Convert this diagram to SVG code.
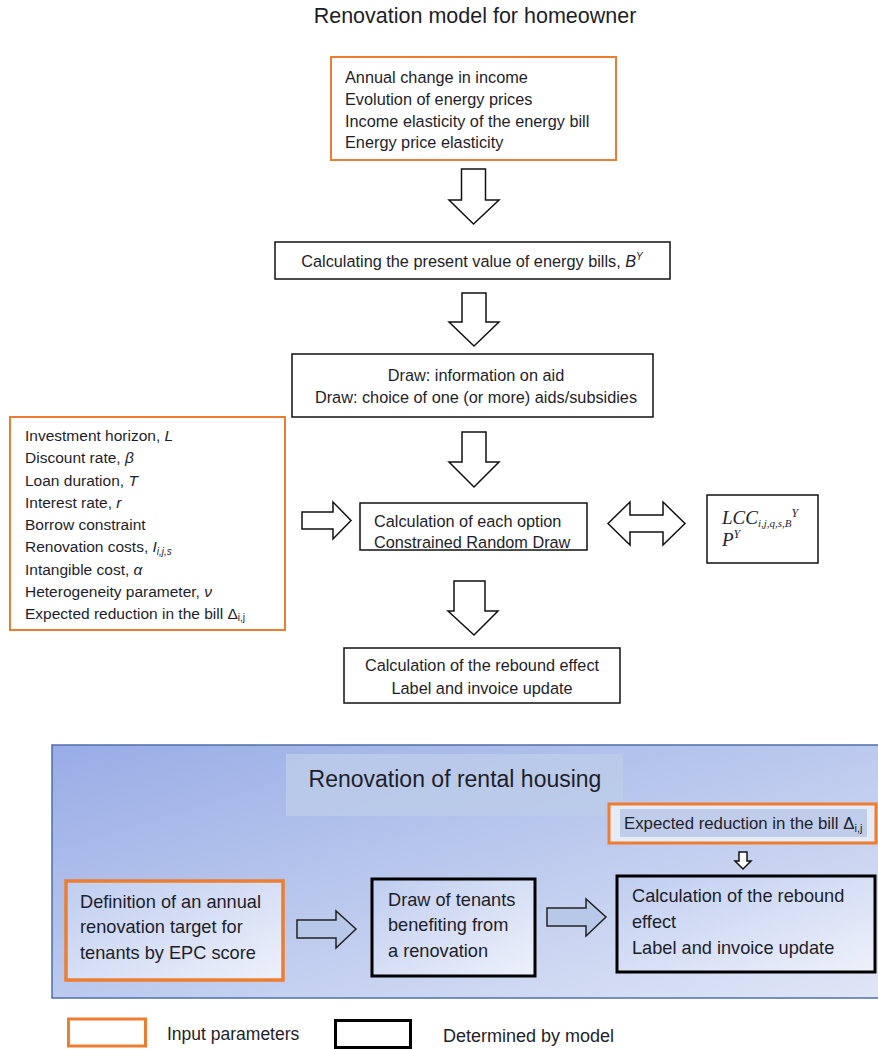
<svg xmlns="http://www.w3.org/2000/svg" width="878" height="1049" viewBox="0 0 878 1049">
<defs>
<linearGradient id="panelGrad" x1="0" y1="0" x2="1" y2="1">
<stop offset="0" stop-color="#98ade6"/>
<stop offset="1" stop-color="#e0e6f6"/>
</linearGradient>
<linearGradient id="boxGrad" x1="0" y1="0" x2="1" y2="1">
<stop offset="0" stop-color="#bfcdf0"/>
<stop offset="1" stop-color="#eef1fa"/>
</linearGradient>
<style>
text{font-family:"Liberation Sans",Arial,sans-serif;fill:#1e1e2a}
.t15{font-size:15.5px}
.t16{font-size:16.3px}
.t18{font-size:18.2px}
.in{fill:#fff;stroke:#ed7d31;stroke-width:2}
.md{fill:#fff;stroke:#111;stroke-width:1.5}
.arw{fill:#fff;stroke:#111;stroke-width:1.5;stroke-linejoin:miter}
.barw{fill:#b8c8e8;stroke:#222;stroke-width:1.5}
.inB{fill:url(#boxGrad);stroke:#ed7d31;stroke-width:3.5}
.mdB{fill:url(#boxGrad);stroke:#000;stroke-width:3}
.it{font-style:italic}
.serif{font-family:"Liberation Serif","Times New Roman",serif;font-style:italic}
</style>
</defs>
<rect width="878" height="1049" fill="#fff"/>
<text x="475" y="23" font-size="21.5" text-anchor="middle">Renovation model for homeowner</text>

<g id="connectors">
<polygon class="arw" points="461.5,169 485.5,169 485.5,200 499,200 473.5,224 449,200 461.5,200"/>
<polygon class="arw" points="462,293 486,293 486,322 499,322 474,346 449,322 462,322"/>
<polygon class="arw" points="462,432 486,432 486,462 499,462 474,487 449,462 462,462"/>
<polygon class="arw" points="454,581 485,581 485,611 498,611 474,635 448,611 454,611"/>
<polygon class="arw" points="302,512 333,512 333,502 351,520.5 333,539 333,529 302,529"/>
<polygon class="arw" points="608,523.5 630,502 630,515 663,515 663,502 685,523.5 663,545 663,532 630,532 630,545"/>
</g>

<g id="inputs-top">
<rect class="in" x="331" y="57" width="285" height="103"/>
<text class="t16" x="345" y="83">Annual change in income</text>
<text class="t16" x="345" y="105">Evolution of energy prices</text>
<text class="t16" x="345" y="127">Income elasticity of the energy bill</text>
<text class="t16" x="345" y="148">Energy price elasticity</text>
</g>

<g id="present-value">
<rect class="md" x="275" y="242" width="395" height="37"/>
<text class="t16" x="472" y="267" text-anchor="middle">Calculating the present value of energy bills, <tspan class="it">B</tspan><tspan class="it" font-size="10" dy="-7">Y</tspan></text>
</g>

<g id="draw-aid">
<rect class="md" x="292" y="354" width="361" height="63"/>
<text class="t16" x="476" y="381" text-anchor="middle">Draw: information on aid</text>
<text class="t16" x="476" y="403" text-anchor="middle">Draw: choice of one (or more) aids/subsidies</text>
</g>

<g id="inputs-left">
<rect class="in" x="10" y="417" width="275" height="213"/>
<text class="t15" x="25" y="441">Investment horizon, <tspan class="it">L</tspan></text>
<text class="t15" x="25" y="463">Discount rate, <tspan class="it">β</tspan></text>
<text class="t15" x="25" y="486">Loan duration, <tspan class="it">T</tspan></text>
<text class="t15" x="25" y="508">Interest rate, <tspan class="it">r</tspan></text>
<text class="t15" x="25" y="530">Borrow constraint</text>
<text class="t15" x="25" y="552">Renovation costs, <tspan class="it">I</tspan><tspan class="it" font-size="10" dy="3">i,j,s</tspan></text>
<text class="t15" x="25" y="575">Intangible cost, <tspan class="it">α</tspan></text>
<text class="t15" x="25" y="597">Heterogeneity parameter, <tspan class="it">ν</tspan></text>
<text class="t15" x="25" y="619">Expected reduction in the bill Δ<tspan font-size="10" dy="2">i,j</tspan></text>
</g>

<g id="calc-option">
<rect class="md" x="360" y="503" width="227" height="47"/>
<text class="t16" x="374" y="527">Calculation of each option</text>
<text class="t16" x="374" y="548">Constrained Random Draw</text>
</g>

<g id="lcc">
<rect class="md" x="707" y="495" width="111" height="68"/>
<text class="serif" x="722" y="524" font-size="19">LCC<tspan font-size="11" dy="3">i,j,q,s,B</tspan><tspan font-size="12" dy="-10">Y</tspan></text>
<text class="serif" x="722" y="546" font-size="19">P<tspan font-size="12" dy="-8">Y</tspan></text>
</g>

<g id="rebound-top">
<rect class="md" x="344" y="648" width="276" height="55"/>
<text class="t16" x="482" y="671" text-anchor="middle">Calculation of the rebound effect</text>
<text class="t16" x="482" y="694" text-anchor="middle">Label and invoice update</text>
</g>

<g id="rental-panel">
<rect x="52" y="745" width="830" height="253" fill="url(#panelGrad)" stroke="#4f6fa8" stroke-width="1.5"/>
<rect x="286" y="754" width="337" height="62" fill="#bccbe9" opacity="0.85"/>
<text x="455" y="787" font-size="23" text-anchor="middle">Renovation of rental housing</text>
</g>

<g id="rental-connectors">
<polygon class="barw" points="297,920 336,920 336,911 356,929 336,948 336,938 297,938"/>
<polygon class="barw" points="547,908 586,908 586,899 606,917 586,936 586,926 547,926"/>
<polygon class="arw" points="739,852 747,852 747,861 751,861 743,869 735,861 739,861" stroke-width="1.2"/>
</g>

<g id="rental-input">
<rect x="609" y="804" width="267" height="39" fill="#e6ebf8" stroke="#ed7d31" stroke-width="3"/>
<rect x="620" y="809" width="247" height="28" fill="#bfcdeb"/>
<text x="624" y="829" font-size="16.8">Expected reduction in the bill Δ<tspan font-size="11" dy="3">i,j</tspan></text>
</g>

<g id="annual-target">
<rect class="inB" x="66" y="881" width="217" height="99"/>
<text class="t18" x="80" y="908">Definition of an annual</text>
<text class="t18" x="80" y="933">renovation target for</text>
<text class="t18" x="80" y="959">tenants by EPC score</text>
</g>

<g id="draw-tenants">
<rect class="mdB" x="372" y="879" width="163" height="97"/>
<text class="t18" x="388" y="906">Draw of tenants</text>
<text class="t18" x="388" y="931">benefiting from</text>
<text class="t18" x="388" y="957">a renovation</text>
</g>

<g id="rebound-rental">
<rect class="mdB" x="617" y="876" width="258" height="96"/>
<text class="t18" x="632" y="902">Calculation of the rebound</text>
<text class="t18" x="632" y="928">effect</text>
<text class="t18" x="632" y="954">Label and invoice update</text>
</g>

<g id="legend">
<rect x="68.5" y="1019" width="77" height="27" fill="#fff" stroke="#ed7d31" stroke-width="3"/>
<text x="167" y="1040" font-size="17.5">Input parameters</text>
<rect x="335.5" y="1020.5" width="75" height="27" fill="#fff" stroke="#000" stroke-width="3"/>
<text x="443" y="1042" font-size="18">Determined by model</text>
</g>
</svg>
